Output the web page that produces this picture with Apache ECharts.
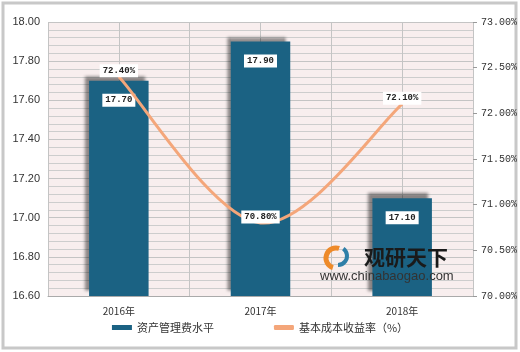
<!DOCTYPE html>
<html>
<head>
<meta charset="utf-8">
<script src="https://cdn.jsdelivr.net/npm/echarts@6/dist/echarts.min.js"></script>
<style>
  html, body { margin: 0; padding: 0; background: #fff; }
  #main { width: 520px; height: 352px; }
</style>
</head>
<body>
<div id="main"></div>
<script>
var years = ['2016年', '2017年', '2018年'];
var feeLevel = [17.70, 17.90, 17.10];      // 资产管理费水平
var costReturn = [72.40, 70.80, 72.10];    // 基本成本收益率（%）

var myChart = echarts.init(document.getElementById('main'));

var labelBox = {
    show: true,
    backgroundColor: '#fff',
    padding: [2, 3],
    color: '#222',
    fontFamily: 'Liberation Mono',
    fontWeight: 'bold',
    fontSize: 9
};

// excel风格的平滑曲线（Catmull-Rom 转 Bezier）
function smoothPath(pts) {
    var d = 'M' + pts[0][0] + ' ' + pts[0][1];
    for (var i = 0; i < pts.length - 1; i++) {
        var p0 = pts[i - 1] || pts[i], p1 = pts[i], p2 = pts[i + 1], p3 = pts[i + 2] || pts[i + 1];
        var c1 = [p1[0] + (p2[0] - p0[0]) / 6, p1[1] + (p2[1] - p0[1]) / 6];
        var c2 = [p2[0] - (p3[0] - p1[0]) / 6, p2[1] - (p3[1] - p1[1]) / 6];
        d += ' C' + c1[0] + ' ' + c1[1] + ' ' + c2[0] + ' ' + c2[1] + ' ' + p2[0] + ' ' + p2[1];
    }
    return d;
}

var option = {
    backgroundColor: '#fff',
    animation: false,
    graphic: [
        {
            type: 'rect',
            shape: { x: 3, y: 3, width: 513, height: 345 },
            style: { fill: 'none', stroke: '#c8c8c8', lineWidth: 3 },
            z: 0
        },
        // 水印
        {
            type: 'arc', z: 10,
            shape: { cx: 336, cy: 258, r: 10, startAngle: Math.PI * 0.6, endAngle: Math.PI * 1.6 },
            style: { fill: 'none', stroke: '#ee8a2a', lineWidth: 5 }
        },
        {
            type: 'arc', z: 10,
            shape: { cx: 338, cy: 256, r: 9, startAngle: Math.PI * 1.7, endAngle: Math.PI * 2.5 },
            style: { fill: 'none', stroke: '#2f7fa8', lineWidth: 4 }
        },
        {
            type: 'text', left: 364, top: 247, z: 10,
            style: { text: '观研天下', fill: '#1a1a1a', font: 'bold 21px "Noto Sans CJK SC"' }
        },
        {
            type: 'text', left: 320, top: 270, z: 10,
            style: { text: 'www.chinabaogao.com', fill: '#333', font: '13px "Liberation Sans"' }
        }
    ],
    grid: { left: 48, right: 47, top: 22, bottom: 56, backgroundColor: '#f8eeee', show: true, borderWidth: 0 },
    legend: {
        bottom: 14,
        itemGap: 60,
        itemWidth: 20,
        itemHeight: 5,
        textStyle: { color: '#333', fontSize: 11, fontFamily: 'Noto Sans CJK SC' },
        data: [
            { name: '资产管理费水平', icon: 'rect' },
            { name: '基本成本收益率（%）', icon: 'roundRect' }
        ]
    },
    xAxis: [
        {
            type: 'category',
            data: years,
            axisLine: { lineStyle: { color: '#aaa' } },
            axisTick: { show: false },
            axisLabel: { color: '#333', fontSize: 10, fontFamily: 'Noto Sans CJK SC', margin: 10 },
            splitLine: { show: false }
        },
        {
            type: 'value', min: 0, max: 6, interval: 1, show: true, position: 'bottom',
            axisLine: { show: false }, axisTick: { show: false }, axisLabel: { show: false },
            splitLine: { show: true, lineStyle: { color: '#c4c4c4', width: 1 } }
        }
    ],
    yAxis: [
        {
            type: 'value', min: 16.6, max: 18, interval: 0.2,
            axisLine: { show: false }, axisTick: { show: false },
            axisLabel: {
                color: '#333', fontSize: 11, fontFamily: 'Liberation Sans',
                formatter: function (v) { return v.toFixed(2); }
            },
            splitLine: { show: true, lineStyle: { color: '#c4c4c4' } },
            minorTick: { show: false, splitNumber: 5 },
            minorSplitLine: { show: true, lineStyle: { color: '#cdcdcd' } }
        },
        {
            type: 'value', min: 70, max: 73, interval: 0.5,
            axisLine: { show: false },
            axisTick: { show: true, length: 4, lineStyle: { color: '#999' } },
            axisLabel: {
                color: '#333', fontSize: 10, fontFamily: 'Liberation Mono',
                formatter: function (v) { return v.toFixed(2) + '%'; }
            },
            splitLine: { show: false }
        }
    ],
    series: [
        {
            name: '资产管理费水平',
            type: 'bar',
            barWidth: '42%',
            data: feeLevel,
            itemStyle: {
                color: '#1b6283',
                shadowColor: 'rgba(0,0,0,0.45)',
                shadowBlur: 3,
                shadowOffsetX: -4,
                shadowOffsetY: -5
            },
            label: Object.assign({}, labelBox, {
                position: 'insideTop',
                distance: 13,
                formatter: function (p) { return p.value.toFixed(2); }
            }),
            z: 3
        },
        {
            // 曲线本身
            type: 'custom',
            yAxisIndex: 1,
            data: costReturn,
            z: 4,
            renderItem: function (params, api) {
                if (params.dataIndex !== 0) return null;
                var pts = costReturn.map(function (v, i) { return api.coord([i, v]); });
                return {
                    type: 'path',
                    shape: { pathData: smoothPath(pts) },
                    style: { fill: 'none', stroke: '#f4a67a', lineWidth: 3 }
                };
            }
        },
        {
            // 标签和图例
            name: '基本成本收益率（%）',
            type: 'line',
            yAxisIndex: 1,
            symbol: 'circle',
            symbolSize: 1,
            showSymbol: true,
            data: costReturn,
            lineStyle: { color: '#f4a67a', width: 3, opacity: 0 },
            itemStyle: { color: '#f4a67a' },
            label: Object.assign({}, labelBox, {
                position: 'inside',
                offset: [0, -6],
                formatter: function (p) { return p.value.toFixed(2) + '%'; }
            }),
            z: 5
        }
    ]
};

myChart.setOption(option);
</script>
</body>
</html>
